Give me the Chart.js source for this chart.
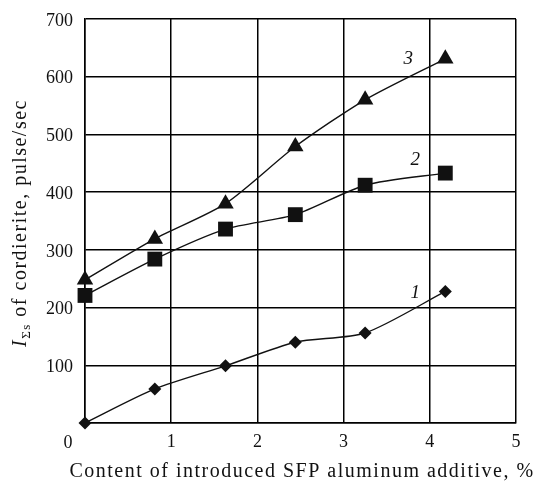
<!DOCTYPE html>
<html>
<head>
<meta charset="utf-8">
<script src="https://cdn.jsdelivr.net/npm/chart.js@4.4.0/dist/chart.umd.min.js"></script>
<style>
  html, body { margin: 0; padding: 0; background: #fff; }
  #chartCanvas { display: block; }
</style>
</head>
<body>
<canvas id="chartCanvas" width="537" height="481"></canvas>
<script>
// additive content, %
const xValues = [0, 0.81, 1.63, 2.44, 3.25, 4.18];
// intensity, pulse/sec
const curve1 = [0, 59, 99, 140, 156, 228];
const curve2 = [221, 284, 336, 361, 412, 433];
const curve3 = [248, 319, 380, 479, 560, 631];
// curve numbers and where they sit (data coords)
const curveLabels = ['1', '2', '3'];
const labelX = [3.83, 3.83, 3.75];
const labelY = [226, 455, 630];

const yTitleMain = 'I';
const yTitleSub = 'Σs';
const yTitleRest = ' of cordierite, pulse/sec';
const xTitle = 'Content of introduced SFP aluminum additive, %';

const serif = '"Liberation Serif", "Times New Roman", serif';
const ink = '#111';

function toPoints(ys)
{
  return xValues.map((x, i) => ({ x: x, y: ys[i] }));
}

// draws the curve numbers, both axis titles and the shared origin label
const extrasPlugin = {
  id: 'extras',
  afterDraw(chart)
  {
    let ctx = chart.ctx;
    let area = chart.chartArea;
    let xs = chart.scales.x;
    let ys = chart.scales.y;

    ctx.save();
    ctx.fillStyle = ink;

    // curve numbers
    ctx.font = 'italic 19px ' + serif;
    ctx.textAlign = 'center';
    ctx.textBaseline = 'middle';
    for(let i = 0; i < curveLabels.length; i++)
    {
      ctx.fillText(curveLabels[i], xs.getPixelForValue(labelX[i]), ys.getPixelForValue(labelY[i]));
    }

    // origin "0"
    ctx.font = '18px ' + serif;
    ctx.fillText('0', area.left - 17, area.bottom + 20);

    // x title (the source type is set loosely)
    ctx.letterSpacing = '1.5px';
    ctx.textBaseline = 'alphabetic';
    ctx.font = '20px ' + serif;
    ctx.fillText(xTitle, 302, 477);

    // y title, rotated
    ctx.translate(26, 223);
    ctx.rotate(-Math.PI / 2);
    ctx.textAlign = 'left';
    ctx.font = 'italic 20px ' + serif;
    let wMain = ctx.measureText(yTitleMain).width;
    ctx.font = '13px ' + serif;
    let wSub = ctx.measureText(yTitleSub).width;
    ctx.font = '20px ' + serif;
    let wRest = ctx.measureText(yTitleRest).width;
    let start = -(wMain + wSub + wRest) / 2;

    ctx.font = 'italic 20px ' + serif;
    ctx.fillText(yTitleMain, start, 0);
    ctx.font = '13px ' + serif;
    ctx.fillText(yTitleSub, start + wMain, 4);
    ctx.font = '20px ' + serif;
    ctx.fillText(yTitleRest, start + wMain + wSub, 0);
    ctx.restore();
  }
};

let popCanvas = document.getElementById('chartCanvas');

const data = {
  datasets: [
    {
      label: '1',
      data: toPoints(curve1),
      pointStyle: 'rectRot',
      pointRadius: 6.5
    },
    {
      label: '2',
      data: toPoints(curve2),
      pointStyle: 'rect',
      pointRadius: 10.5
    },
    {
      label: '3',
      data: toPoints(curve3),
      pointStyle: 'triangle',
      pointRadius: 9.5
    }
  ].map(ds => Object.assign(ds, {
    borderColor: ink,
    backgroundColor: ink,
    pointBackgroundColor: ink,
    pointBorderColor: ink,
    pointBorderWidth: 0,
    borderWidth: 1.4,
    tension: 0.25,
    clip: false
  }))
};

let gridStyle = { color: '#000', lineWidth: 1.5, drawTicks: false };
let borderStyle = { color: '#000', width: 1.5 };

let options = {
  responsive: false,
  animation: false,
  layout: { padding: { top: 19, right: 21, left: 0, bottom: 0 } },
  plugins: {
    legend: { display: false },
    tooltip: { enabled: false }
  },
  scales: {
    x: {
      type: 'linear',
      min: 0,
      max: 5,
      ticks: {
        stepSize: 1,
        padding: 8,
        color: ink,
        font: { family: serif, size: 18 },
        callback: v => (v === 0 ? '' : v)
      },
      grid: gridStyle,
      border: borderStyle,
      afterFit: s => { s.height = 58; }
    },
    y: {
      min: 0,
      max: 700,
      ticks: {
        stepSize: 100,
        padding: 12,
        labelOffset: 2,
        color: ink,
        font: { family: serif, size: 18 },
        callback: v => (v === 0 ? '' : v)
      },
      grid: gridStyle,
      border: borderStyle,
      afterFit: s => {
        s.width = 85;
        // keep the label overhang from pushing the plot down
        s.paddingTop = 10;
        s.paddingBottom = 10;
      }
    }
  }
};

new Chart(popCanvas, {
  type: 'line',
  data: data,
  options: options,
  plugins: [extrasPlugin]
});
</script>
</body>
</html>
